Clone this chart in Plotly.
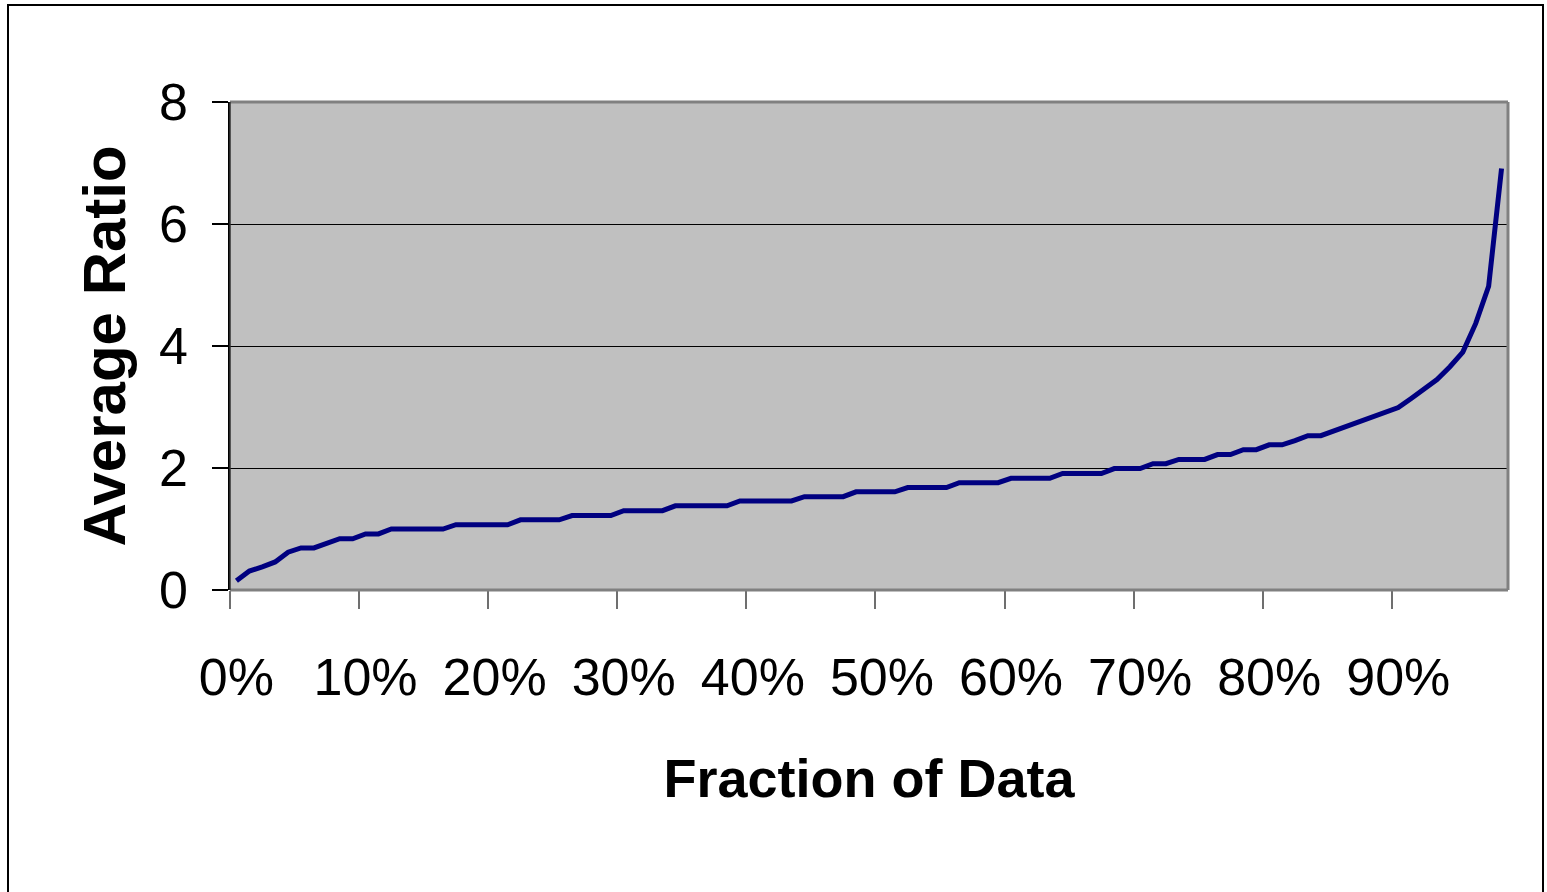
import plotly.graph_objects as go

# ---------------- data ----------------
fraction_pct = list(range(99))  # category index = percent of data (0% .. 98%)
average_ratio = [
    0.15, 0.31, 0.38, 0.46, 0.62, 0.69, 0.69, 0.76, 0.84, 0.84,
    0.92, 0.92, 1.00, 1.00, 1.00, 1.00, 1.00, 1.07, 1.07, 1.07,
    1.07, 1.07, 1.15, 1.15, 1.15, 1.15, 1.22, 1.22, 1.22, 1.22,
    1.30, 1.30, 1.30, 1.30, 1.38, 1.38, 1.38, 1.38, 1.38, 1.46,
    1.46, 1.46, 1.46, 1.46, 1.53, 1.53, 1.53, 1.53, 1.61, 1.61,
    1.61, 1.61, 1.68, 1.68, 1.68, 1.68, 1.76, 1.76, 1.76, 1.76,
    1.83, 1.83, 1.83, 1.83, 1.91, 1.91, 1.91, 1.91, 1.99, 1.99,
    1.99, 2.07, 2.07, 2.14, 2.14, 2.14, 2.22, 2.22, 2.30, 2.30,
    2.38, 2.38, 2.45, 2.53, 2.53, 2.61, 2.69, 2.77, 2.84, 2.91,
    2.99, 3.14, 3.30, 3.45, 3.66, 3.90, 4.37, 4.98, 6.91,
]
x_label_pos = [0, 10, 20, 30, 40, 50, 60, 70, 80, 90]
x_labels = ["0%", "10%", "20%", "30%", "40%", "50%", "60%", "70%", "80%", "90%"]
x_tick_marks = [-0.5, 9.5, 19.5, 29.5, 39.5, 49.5, 59.5, 69.5, 79.5, 89.5]
y_ticks = [0, 2, 4, 6, 8]

# ---------------- layout geometry (pixels) ----------------
W, H = 1547, 892
L, R, T, B = 230, 1508, 102, 590
FONT = "Liberation Sans, Arial, sans-serif"


def px_x(p):
    return (p - L) / (R - L)


def px_y(p):
    return (B - p) / (B - T)


fig = go.Figure()
fig.add_trace(go.Scatter(
    x=fraction_pct, y=average_ratio, mode="lines",
    line=dict(color="#000080", width=5), xaxis="x", yaxis="y",
    showlegend=False, hoverinfo="x+y",
))
# helper trace so the label axis is drawn
fig.add_trace(go.Scatter(
    x=[fraction_pct[0], fraction_pct[-1]], y=[0, 0], xaxis="x2", yaxis="y",
    mode="lines", line=dict(width=0, color="rgba(0,0,0,0)"), opacity=0,
    showlegend=False, hoverinfo="skip",
))

xrange = [-0.5, len(fraction_pct) - 0.5]

fig.update_layout(
    width=W, height=H,
    margin=dict(l=L, r=W - R, t=T, b=H - B, pad=0),
    paper_bgcolor="white",
    plot_bgcolor="#C0C0C0",
    font=dict(family=FONT, color="black"),
    xaxis=dict(
        range=xrange, tickmode="array", tickvals=x_tick_marks,
        showticklabels=False, ticks="outside", ticklen=18, tickwidth=1.5,
        tickcolor="#6f6f6f", showgrid=False, zeroline=False, showline=False,
        fixedrange=True,
    ),
    xaxis2=dict(
        overlaying="x", anchor="y", side="bottom", range=xrange,
        tickmode="array", tickvals=x_label_pos, ticktext=x_labels,
        ticks="", showgrid=False, zeroline=False, showline=False,
        tickfont=dict(size=52, family=FONT, color="black"),
        ticklabelstandoff=52,
        title=dict(text="<b>Fraction of Data</b>",
                   font=dict(size=54, family=FONT, color="black"),
                   standoff=54),
    ),
    yaxis=dict(
        range=[0, 8], tickmode="array", tickvals=y_ticks,
        ticks="outside", ticklen=16, tickwidth=1.5, tickcolor="black",
        showgrid=True, gridcolor="black", gridwidth=1,
        zeroline=False, showline=True, linecolor="black", linewidth=1.5,
        tickfont=dict(size=52, family=FONT, color="black"),
        ticklabelstandoff=14,
        title=dict(text="<b>Average Ratio</b>",
                   font=dict(size=60, family=FONT, color="black"),
                   standoff=14),
    ),
    shapes=[
        # plot-area border (gray, Excel-style)
        dict(type="line", xref="paper", yref="paper", x0=0, x1=1, y0=1, y1=1,
             line=dict(color="#808080", width=3), layer="above"),
        dict(type="line", xref="paper", yref="paper", x0=1, x1=1, y0=0, y1=1,
             line=dict(color="#808080", width=3), layer="above"),
        dict(type="line", xref="paper", yref="paper", x0=0, x1=1, y0=0, y1=0,
             line=dict(color="#808080", width=3), layer="above"),
        dict(type="line", xref="paper", yref="paper", x0=0, x1=0, y0=0, y1=1,
             line=dict(color="#303030", width=1.5), layer="above"),
        # outer chart border
        dict(type="rect", xref="paper", yref="paper",
             x0=px_x(8), x1=px_x(1543), y0=px_y(896), y1=px_y(5),
             line=dict(color="black", width=2), layer="above"),
    ],
)

fig.write_html(
    "out.html",
    config={"displayModeBar": False},
    post_script="document.body.style.margin='0';document.body.style.overflow='hidden';",
)
